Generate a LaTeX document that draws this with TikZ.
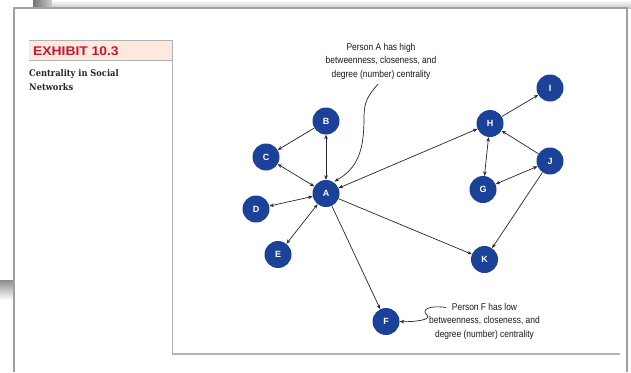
\documentclass[tikz,border=0pt]{standalone}
\usepackage{fontspec}
\usetikzlibrary{arrows.meta}
\newfontfamily\annofont[FakeStretch=0.86]{Liberation Sans}
\newfontfamily\labelfont{Liberation Sans}
\newfontfamily\headfont[FakeStretch=1.1]{Liberation Sans}
\newfontfamily\slabfont[FakeStretch=0.9]{DejaVu Serif}
\definecolor{nodeblue}{RGB}{27,65,152}
\definecolor{crimson}{RGB}{196,22,58}
\definecolor{peach}{RGB}{253,234,221}
\definecolor{framegray}{RGB}{160,160,162}
\definecolor{rulegray}{RGB}{178,178,178}
\begin{document}
\begin{tikzpicture}[x=1pt,y=-1pt,
  person/.style={circle, fill=nodeblue, text=white, minimum size=27pt, inner sep=0pt,
    font=\labelfont\bfseries\fontsize{9}{9}\selectfont},
  link/.style={draw=black!85, line width=0.7pt},
  >={Stealth[length=4.5pt,width=3.6pt]},
  note/.style={align=center, inner sep=0pt, text=black!90,
    font=\annofont\fontsize{9.8}{13.7}\selectfont},
  pagerule/.style={draw=framegray, line width=2pt},
  innerrule/.style={draw=rulegray, line width=1.4pt}]
\useasboundingbox (0,0) rectangle (631,372);
\fill[white] (0,0) rectangle (631,372);

% pages stacked underneath
\shade[top color=white, bottom color=black!22] (33,0) rectangle (631,8);
\shade[left color=black!55, right color=black!20] (33,0) rectangle (52,8);
\shade[top color=black!45, bottom color=white] (0,280) rectangle (13,300);

% page frame
\draw[pagerule] (14,372) -- (14,8) -- (627,8) -- (627,372);

% exhibit header and panel rules
\fill[peach] (29,40.5) rectangle (172.5,60.5);
\draw[rulegray, line width=1pt] (29,40.5) -- (172.5,40.5);
\draw[rulegray, line width=1pt] (29,60.5) -- (172.5,60.5);
\draw[innerrule] (172.5,40) -- (172.5,354) -- (620,354);
\node[anchor=base west, inner sep=0pt, text=crimson,
  font=\headfont\bfseries\fontsize{12.6}{12.6}\selectfont] (exh) at (33,55) {EXHIBIT 10.3};
% base anchor of a multi-line node sits on its last line
\node[anchor=base west, align=left, inner sep=0pt, text=black!85,
  font=\slabfont\bfseries\fontsize{9.2}{14.7}\selectfont] (title) at (29,90.7)
  {Centrality in Social\\Networks};

% people
\node[person] (A) at (326,193.5) {A};
\node[person] (B) at (326,121) {B};
\node[person] (C) at (266,157) {C};
\node[person] (D) at (256,209) {D};
\node[person] (E) at (278,254.5) {E};
\node[person] (F) at (386,321.5) {F};
\node[person] (G) at (483,189.5) {G};
\node[person] (H) at (490,123.5) {H};
\node[person] (I) at (550,88) {I};
\node[person] (J) at (550,161) {J};
\node[person] (K) at (484.5,259.5) {K};

% ties
\draw[link,->] (B) -- (C);
\draw[link,<->] (B) -- (A);
\draw[link,<->] (C) -- (A);
\draw[link,<->] (D) -- (A);
\draw[link,<->] (E) -- (A);
\draw[link,<->] (A) -- (H);
\draw[link,->] (A) -- (K);
\draw[link,->] (A) -- (F);
\draw[link,->] (H) -- (I);
\draw[link,<->] (H) -- (G);
\draw[link,->] (J) -- (H);
\draw[link,<->] (J) -- (G);
\draw[link,->] (J) -- (K);

% annotations
\node[note, anchor=base] (noteA) at (381,77.4)
  {Person A has high\\betweenness, closeness, and\\degree (number) centrality};
\node[note, anchor=base] (noteF) at (484.5,337.6)
  {Person F has low\\betweenness, closeness, and\\degree (number) centrality};
\coordinate (pa) at (378,84);
\coordinate (pf) at (446,307.5);
\draw[link,->] (pa) .. controls (368,96) and (364,101) .. (364,118)
  .. controls (364,150) and (358,168) .. ([shift={(55:1pt)}]A.55);
\draw[link,->] (pf) .. controls (428,305) and (421,310) .. (427,315)
  .. controls (432,320) and (414,322) .. (F.east);
\end{tikzpicture}
\end{document}
